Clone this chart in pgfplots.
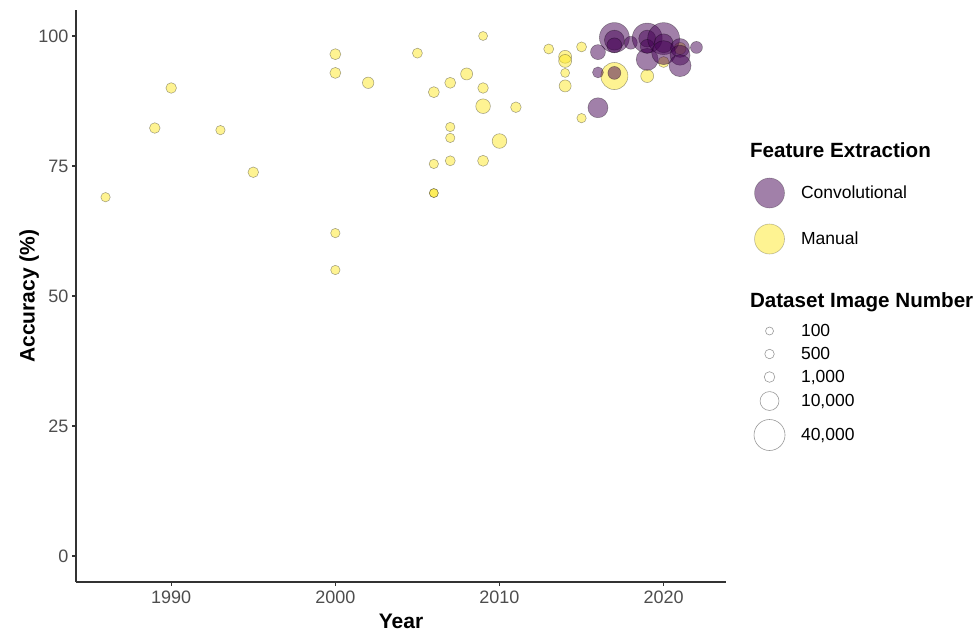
\documentclass[border=0pt]{standalone}
\usepackage{fontspec}
\setmainfont{Liberation Sans}
\usepackage{pgfplots}
\usepackage{pgfplotstable}
\pgfplotsset{compat=1.18}

\definecolor{vpurple}{HTML}{440154}
\definecolor{vyellow}{HTML}{FDE725}
\definecolor{axisgray}{HTML}{333333}
\definecolor{tickgray}{HTML}{4D4D4D}

% height of one legend row (set per legend image)
\tikzset{row height/.store in=\legrowh, row height=23bp}

% year, accuracy (%), number of images in the dataset
\pgfplotstableread{
year acc n
1986 69.0 460
1989 82.3 990
1990 90.0 990
1993 81.9 460
1995 73.8 990
2000 96.5 1200
2000 92.9 1200
2000 62.1 460
2000 55.0 460
2002 91.0 1450
2005 96.7 700
2006 89.2 1200
2006 75.4 460
2006 69.8 330
2006 69.8 330
2007 91.0 1200
2007 82.5 460
2007 80.4 460
2007 76.0 700
2008 92.7 1850
2009 100.0 330
2009 90.0 990
2009 86.5 4200
2009 76.0 1200
2010 79.8 4200
2011 86.3 990
2013 97.5 700
2014 96.0 2600
2014 95.2 2600
2014 92.9 330
2014 90.4 1850
2015 97.9 700
2015 84.2 460
2017 92.3 28000
2019 92.3 2600
2020 95.0 1200
2021 97.6 1850
}\manualdata

\pgfplotstableread{
year acc n
2016 96.9 4600
2016 93.0 1200
2016 86.2 11900
2017 99.7 36800
2017 99.2 11900
2017 98.2 4600
2017 92.9 2600
2018 98.7 2600
2019 99.6 36800
2019 99.5 7100
2019 95.5 15800
2019 98.0 3500
2020 99.5 43400
2020 98.6 10000
2020 96.8 20200
2021 97.7 10000
2021 96.3 11900
2021 94.3 15800
2022 97.8 1850
}\convdata

\begin{document}
\begin{tikzpicture}
\begin{axis}[
  width=650bp, height=572bp, scale only axis,
  xmin=1984.2, xmax=2023.8, ymin=-5, ymax=105,
  xtick={1990,2000,2010,2020}, ytick={0,25,50,75,100},
  axis x line*=bottom, axis y line*=left,
  axis line style={-, axisgray, line width=1.1bp},
  tick style={axisgray, line width=1.1bp},
  major tick length=4bp, tick align=outside,
  tick label style={font=\fontsize{18bp}{21bp}\selectfont, text=tickgray},
  /pgf/number format/assume math mode=true,
  xticklabel style={/pgf/number format/1000 sep={}, yshift=-1.5bp},
  xlabel={Year}, ylabel={Accuracy (\%)},
  label style={font=\bfseries\fontsize{21bp}{25bp}\selectfont},
  x label style={at={(axis description cs:0.5,0)}, anchor=base, yshift=-46bp},
  y label style={at={(axis description cs:-0.0638,0.5)}, anchor=base},
  clip=false,
  legend style={at={(axis description cs:1.0431,0.7867)}, anchor=north west,
    draw=none, fill=none, inner sep=0pt, outer sep=0pt,
    row sep=0pt, column sep=16bp,
    nodes={inner sep=0pt, outer sep=0pt},
    font=\fontsize{17.5bp}{21bp}\selectfont},
  legend cell align=left,
  legend image code/.code={%
    \begin{scope}[#1]
      \path[draw=none, fill=none] (0bp,{-0.5*\legrowh}) (30bp,{0.5*\legrowh});
      \draw plot coordinates {(15bp,0bp)};
    \end{scope}},
  legend title/.style={legend image code/.code={%
    \path[draw=none, fill=none] (0bp,{-0.5*#1}) (30bp,{0.5*#1});}},
  bubble/.style={scatter, only marks, mark=*, forget plot,
    visualization depends on={3.4+0.0605*sqrt(\thisrow{n}) \as \rad},
    scatter/@pre marker code/.append style={/tikz/mark size=\rad bp},
    mark options={fill opacity=0.5, draw opacity=0.35, line width=0.55bp}},
]
\addplot[scatter/use mapped color={draw=black, fill=vyellow}, bubble]
  table[x=year, y=acc] {\manualdata};
\addplot[scatter/use mapped color={draw=black, fill=vpurple}, bubble]
  table[x=year, y=acc] {\convdata};

\addlegendimage{legend title=38bp}
\addlegendentry{\hspace*{-51bp}\bfseries\fontsize{20.6bp}{24bp}\selectfont Feature Extraction}
\addlegendimage{row height=46bp, mark=*, mark size=15bp,
  mark options={draw=black, draw opacity=0.25, fill=vpurple, fill opacity=0.5, line width=0.6bp}}
\addlegendentry{Convolutional}
\addlegendimage{row height=46bp, mark=*, mark size=15bp,
  mark options={draw=black, draw opacity=0.25, fill=vyellow, fill opacity=0.5, line width=0.6bp}}
\addlegendentry{Manual}
\addlegendimage{legend title=20.5bp}
\addlegendentry{}
\addlegendimage{legend title=37bp}
\addlegendentry{\hspace*{-51bp}\bfseries\fontsize{20.6bp}{24bp}\selectfont Dataset Image Number}
\addlegendimage{row height=23bp, mark=o, mark size=4.0bp, mark options={draw=black!40, line width=0.6bp}}
\addlegendentry{100}
\addlegendimage{row height=23bp, mark=o, mark size=4.75bp, mark options={draw=black!40, line width=0.6bp}}
\addlegendentry{500}
\addlegendimage{row height=23bp, mark=o, mark size=5.3bp, mark options={draw=black!40, line width=0.6bp}}
\addlegendentry{1,000}
\addlegendimage{row height=25bp, mark=o, mark size=9.45bp, mark options={draw=black!40, line width=0.6bp}}
\addlegendentry{10,000}
\addlegendimage{row height=43bp, mark=o, mark size=15.5bp, mark options={draw=black!40, line width=0.6bp}}
\addlegendentry{40,000}
\end{axis}
\pgfresetboundingbox
\useasboundingbox (-76bp,-49bp) rectangle (899bp,582bp);
\end{tikzpicture}
\end{document}
